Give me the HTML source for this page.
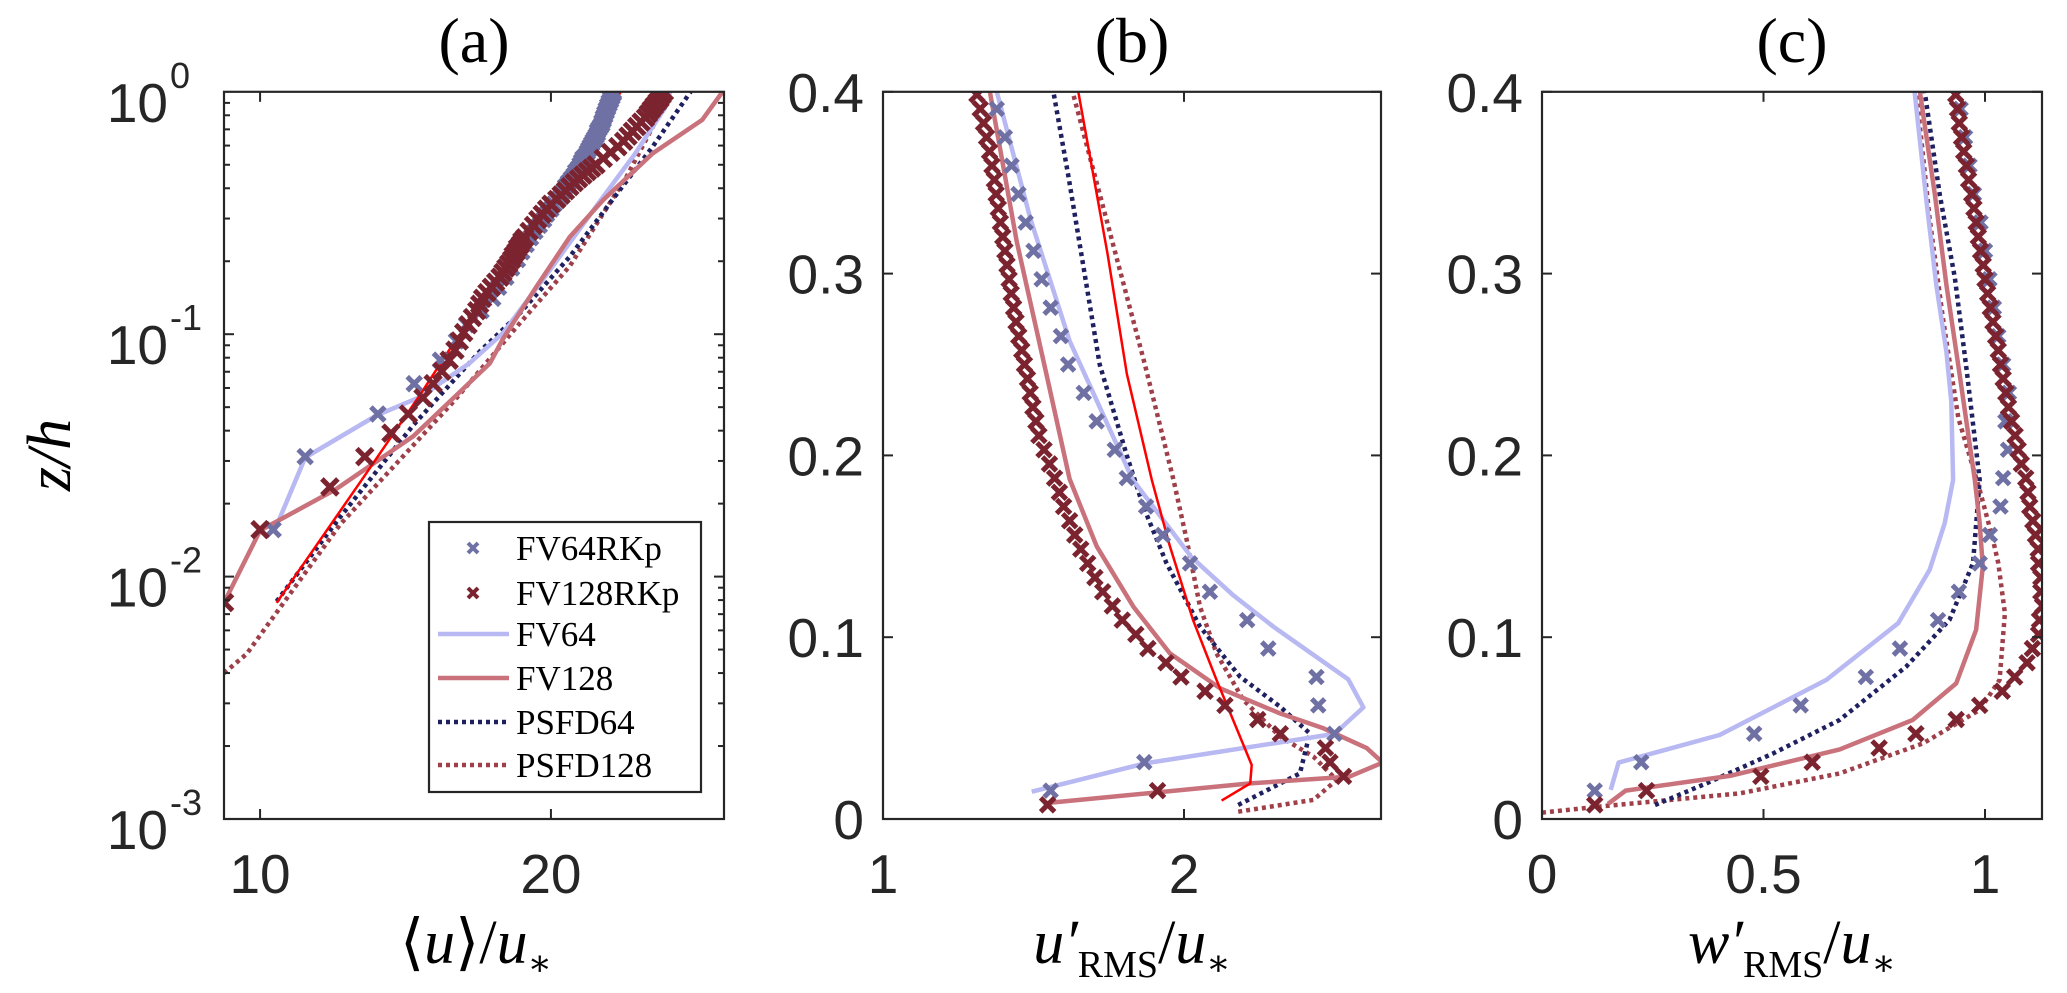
<!DOCTYPE html>
<html><head><meta charset="utf-8"><style>
html,body{margin:0;padding:0;background:#fff;}
svg{display:block;}
.tick{font-family:"Liberation Sans",Arial,sans-serif;font-size:55px;fill:#262626;}
.sup{font-size:36px;}
.ttl{font-family:"Liberation Serif","DejaVu Serif",serif;font-size:64px;fill:#000;}
.lab{font-family:"Liberation Serif","DejaVu Serif",serif;font-size:62px;fill:#000;font-style:italic;}
.leg{font-family:"Liberation Serif","DejaVu Serif",serif;font-size:35px;fill:#000;}
</style></head><body>
<svg id="fig" width="2067" height="993" viewBox="0 0 2067 993" xmlns="http://www.w3.org/2000/svg">
<defs>
<clipPath id="clipA"><rect x="224" y="91.8" width="500" height="727.2"/></clipPath>
<clipPath id="clipB"><rect x="883" y="91.8" width="498" height="727.2"/></clipPath>
<clipPath id="clipC"><rect x="1542" y="91.8" width="500" height="727.2"/></clipPath>
</defs>
<g id="layer"></g>
</svg>
<script>
// ---------------- DATA ----------------
const aFV64RKp_u = [10.45,11.55,14.05,15.3,16.2,16.75,17.1,17.6,18.0,18.2,18.45,18.65,18.85,19.0,19.15,19.3,19.45,19.6,19.75,19.85,20.0,20.1,20.25,20.35,20.45,20.5,20.6,20.7,20.8,20.85,20.95,21.0,21.05,21.1,21.2,21.25,21.3,21.35,21.4,21.45,21.5,21.55,21.6,21.6,21.65,21.7,21.75,21.75,21.8,21.8,21.85,21.85,21.9,21.9,21.95,21.95,22.0,22.0,22.05,22.05,22.1,22.1,22.15,22.15];
const aFV128RKp_k = [1,2,3,4,5,6,7,8,9,10,11,12,13,14,15,16,17,18,19,20,21,22,23,24,25,26,27,28,29,30,31,32,34,36,38,40,42,44,46,48,50,52,54,56,58,60,62,64,68,72,76,80,84,88,92,96,100,104,108,112,116,120,124,128];
const aFV128RKp_u = [8.78,10.0,12.4,13.6,14.5,15.1,15.6,15.95,16.25,16.5,16.7,16.85,17.0,17.15,17.3,17.45,17.55,17.65,17.8,17.95,18.1,18.25,18.35,18.45,18.55,18.65,18.7,18.8,18.85,18.95,19.0,19.1,19.25,19.4,19.55,19.7,19.85,20.0,20.2,20.35,20.5,20.65,20.8,20.95,21.1,21.25,21.4,21.55,21.8,22.05,22.3,22.5,22.65,22.8,22.95,23.1,23.25,23.35,23.45,23.55,23.65,23.75,23.82,23.9];
const aFV64_z = [0.0155,0.031,0.0462,0.055,0.0759,0.101,0.19,0.336,0.557,0.869,1.0];
const aFV64_u = [10.5,11.55,14.0,15.5,17.2,18.35,20.05,21.55,22.9,23.95,24.1];
const aFV128_z = [0.0078,0.0155,0.0229,0.038,0.0575,0.0759,0.0955,0.157,0.252,0.358,0.557,0.766,1.0];
const aFV128_u = [8.76,10.0,12.6,15.27,16.85,17.9,18.35,19.5,20.65,21.8,23.5,25.2,25.9];
const aRed_z = [0.0078,0.0251,0.0562,0.0912,0.158,0.251,0.501,1.0];
const aRed_u = [10.57,13.5,15.5,16.64,18.1,19.2,20.9,22.4];
const aPSFD64_z = [0.0079,0.0176,0.0422,0.0851,0.122,0.209,0.394,0.594,1.0];
const aPSFD64_u = [10.57,12.75,15.27,17.56,18.93,20.65,22.37,23.5,24.8];
const aPSFD128_z = [0.004,0.0048,0.0164,0.0525,0.111,0.191,0.447,0.817,1.0];
const aPSFD128_u = [8.76,9.54,12.75,16.64,18.93,20.65,22.6,23.75,24.0];
const bFV64RKp_u = [1.557,1.868,2.50,2.446,2.44,2.28,2.21,2.086,2.02,1.93,1.874,1.81,1.77,1.71,1.667,1.615,1.591,1.557,1.527,1.50,1.474,1.45,1.427,1.405,1.378];
const bFV128RKp_u = [1.547,1.912,2.53,2.485,2.47,2.32,2.245,2.136,2.07,1.99,1.94,1.88,1.84,1.795,1.762,1.73,1.704,1.68,1.657,1.637,1.62,1.60,1.586,1.57,1.553,1.535,1.518,1.508,1.498,1.489,1.48,1.47,1.461,1.451,1.442,1.434,1.426,1.419,1.412,1.405,1.398,1.39,1.383,1.376,1.37,1.362,1.354,1.344,1.334,1.323,1.312];
const bFV64_z = [0.015,0.0306,0.0468,0.0614,0.0768,0.1058,0.123,0.144,0.1865,0.263,0.33,0.40];
const bFV64_u = [1.494,1.87,2.50,2.596,2.546,2.297,2.164,2.025,1.83,1.62,1.49,1.378];
const bFV128_z = [0.0086,0.0196,0.0233,0.031,0.039,0.0499,0.0581,0.0719,0.0911,0.1168,0.15,0.187,0.244,0.318,0.4];
const bFV128_u = [1.533,2.22,2.55,2.66,2.607,2.463,2.319,2.12,1.953,1.832,1.71,1.62,1.544,1.444,1.355];
const bRed_z = [0.0101,0.0196,0.0297,0.0453,0.0765,0.1095,0.15,0.1865,0.245,0.311,0.4];
const bRed_u = [2.125,2.22,2.225,2.186,2.108,2.03,1.953,1.893,1.81,1.746,1.649];
const bPSFD64_z = [0.0077,0.0251,0.0471,0.0618,0.0783,0.1058,0.1407,0.1718,0.2,0.25,0.3536,0.4];
const bPSFD64_u = [2.18,2.385,2.418,2.319,2.186,2.053,1.942,1.865,1.81,1.72,1.616,1.566];
const bPSFD128_z = [0.004,0.0105,0.0215,0.0343,0.0453,0.0655,0.0911,0.1168,0.1535,0.1865,0.25,0.3,0.4];
const bPSFD128_u = [2.18,2.43,2.507,2.43,2.319,2.197,2.108,2.053,2.009,1.965,1.87,1.79,1.63];
const cFV64RKp_w = [0.119,0.224,0.479,0.584,0.731,0.808,0.894,0.941,0.988,1.011,1.035,1.041,1.052,1.046,1.054,1.041,1.03,1.02,1.01,1.0,0.99,0.975,0.965,0.955,0.945];
const cFV128RKp_w = [0.119,0.236,0.494,0.61,0.761,0.844,0.935,0.988,1.039,1.067,1.095,1.107,1.121,1.123,1.13,1.126,1.126,1.121,1.12,1.114,1.108,1.101,1.097,1.092,1.082,1.075,1.068,1.06,1.053,1.047,1.041,1.035,1.03,1.024,1.018,1.012,1.006,1.0,0.996,0.99,0.985,0.98,0.975,0.97,0.963,0.958,0.952,0.947,0.942,0.938,0.934];
const cFV64_z = [0.016,0.031,0.0462,0.0765,0.1077,0.137,0.1627,0.1865,0.2296,0.257,0.2938,0.3397,0.4];
const cFV64_w = [0.155,0.173,0.401,0.642,0.804,0.875,0.909,0.928,0.924,0.913,0.89,0.868,0.841];
const cFV128_z = [0.0083,0.0156,0.0237,0.0383,0.0545,0.0746,0.104,0.1388,0.1627,0.1865,0.2443,0.2938,0.3433,0.4];
const cFV128_w = [0.149,0.189,0.424,0.672,0.837,0.935,0.98,0.995,0.988,0.977,0.943,0.913,0.887,0.853];
const cPSFD64_z = [0.0077,0.0196,0.0361,0.0545,0.0838,0.1095,0.1407,0.1865,0.248,0.2975,0.3433,0.4];
const cPSFD64_w = [0.255,0.371,0.522,0.672,0.822,0.92,0.973,0.988,0.958,0.932,0.898,0.864];
const cPSFD128_z = [0.0035,0.0072,0.0141,0.0251,0.0416,0.06,0.0765,0.1132,0.1407,0.1535,0.181,0.2204,0.2755,0.3305,0.4];
const cPSFD128_w = [0.0,0.145,0.446,0.672,0.86,0.988,1.033,1.045,1.03,1.018,0.988,0.94,0.905,0.875,0.845];
const aXTicks = [10,20];
const bXTicks = [1,2];
const cXTicks = [0,0.5,1];
const linYTicks = [0,0.1,0.2,0.3,0.4];
const logYExp = [-3,-2,-1,0];
const legendLabels = ["FV64RKp","FV128RKp","FV64","FV128","PSFD64","PSFD128"];

// ---------------- SCALES ----------------
const TOP=91.8, BOT=819;
function lin(d0,d1,r0,r1){return v=>r0+(v-d0)*(r1-r0)/(d1-d0);}
const xA=lin(8.76,25.95,224,724), yA=z=>BOT-(Math.log10(z)+3)*242.4;
const xB=lin(1,2.6545,883,1381), yL=lin(0,0.4,BOT,TOP);
const xC=lin(0,1.1287,1542,2042);

const NS="http://www.w3.org/2000/svg";
const layer=document.getElementById('layer');
function el(tag,attrs,parent){const e=document.createElementNS(NS,tag);for(const k in attrs)e.setAttribute(k,attrs[k]);(parent||layer).appendChild(e);return e;}

const C={m64:'#6f71a4',m128:'#7b2430',l64:'#b8b8f2',l128:'#c9727b',p64:'#1f2060',p128:'#9e3f49',red:'#ff0000'};

function line(xs,ys,xf,yf,color,w,dash,clip,name){
  const d=xs.map((v,i)=>(i?'L':'M')+xf(v).toFixed(1)+' '+yf(ys[i]).toFixed(1)).join(' ');
  const p=el('path',{d:d,fill:'none',stroke:color,'stroke-width':w,'clip-path':'url(#'+clip+')','stroke-linejoin':'round'});
  if(dash)p.setAttribute('stroke-dasharray',dash);
  
  
}
function markers(xv,zv,xf,yf,color,clip,name,s){
  const g=el('g',{'clip-path':'url(#'+clip+')',stroke:color,'stroke-width':5});
  
  
  xv.forEach((v,i)=>{const x=xf(v),y=yf(zv[i]);
    el('path',{d:`M${x-s} ${y-s}L${x+s} ${y+s}M${x-s} ${y+s}L${x+s} ${y-s}`},g);});
}
function grid(n,count){const a=[];for(let k=1;k<=count;k++)a.push(k/n);return a;}
function frame(x0,x1,name){
  const r=el('rect',{x:x0,y:TOP,width:x1-x0,height:BOT-TOP,fill:'none',stroke:'#262626','stroke-width':2.2});
  
  
}
function text(x,y,str,cls,anchor,name){
  const t=el('text',{x:x,y:y,class:cls,'text-anchor':anchor||'middle'});t.textContent=str;
  
  
  return t;
}
const DASH='4 4';
const DW=4.5;

// ---------------- PANEL A ----------------
line(aPSFD128_u,aPSFD128_z,xA,yA,C.p128,DW,DASH,'clipA','a-psfd128-line');
line(aPSFD64_u,aPSFD64_z,xA,yA,C.p64,DW,DASH,'clipA','a-psfd64-line');
line(aFV64_u,aFV64_z,xA,yA,C.l64,4.5,null,'clipA','a-fv64-line');
line(aFV128_u,aFV128_z,xA,yA,C.l128,4.5,null,'clipA','a-fv128-line');
line(aRed_u,aRed_z,xA,yA,C.red,2.5,null,'clipA','a-red-line');
markers(aFV64RKp_u,grid(64,aFV64RKp_u.length),xA,yA,C.m64,'clipA','a-fv64rkp-markers',7);
markers(aFV128RKp_u,aFV128RKp_k.map(k=>k/128),xA,yA,C.m128,'clipA','a-fv128rkp-markers',8);
frame(224,724,'a-axes-box');
for(let e=-3;e<0;e++){for(let m=1;m<10;m++){const y=yA(m*Math.pow(10,e));const L=m===1?10:6;
  el('line',{x1:224,x2:224+L,y1:y,y2:y,stroke:'#262626','stroke-width':2});
  el('line',{x1:724,x2:724-L,y1:y,y2:y,stroke:'#262626','stroke-width':2});}}
logYExp.forEach(e=>{const y=yA(Math.pow(10,e));
  const t=el('text',{x:168,y:y+30,class:'tick','text-anchor':'end'});t.textContent='10';
  
  
  const s=el('text',{x:170,y:y-4,class:'tick sup','text-anchor':'start'});s.textContent=String(e);
  
  
});
aXTicks.forEach(v=>{const x=xA(v);
  el('line',{x1:x,x2:x,y1:BOT,y2:BOT-10,stroke:'#262626','stroke-width':2});
  el('line',{x1:x,x2:x,y1:TOP,y2:TOP+10,stroke:'#262626','stroke-width':2});
  text(x,893,String(v),'tick','middle','a-x-tick-label');});

// ---------------- PANEL B ----------------
line(bPSFD128_u,bPSFD128_z,xB,yL,C.p128,DW,DASH,'clipB','b-psfd128-line');
line(bPSFD64_u,bPSFD64_z,xB,yL,C.p64,DW,DASH,'clipB','b-psfd64-line');
line(bFV64_u,bFV64_z,xB,yL,C.l64,4.5,null,'clipB','b-fv64-line');
line(bFV128_u,bFV128_z,xB,yL,C.l128,4.5,null,'clipB','b-fv128-line');
line(bRed_u,bRed_z,xB,yL,C.red,2.5,null,'clipB','b-red-line');
markers(bFV64RKp_u,grid(64,bFV64RKp_u.length),xB,yL,C.m64,'clipB','b-fv64rkp-markers',6.5);
markers(bFV128RKp_u,grid(128,bFV128RKp_u.length),xB,yL,C.m128,'clipB','b-fv128rkp-markers',7);
frame(883,1381,'b-axes-box');
bXTicks.forEach(v=>{const x=xB(v);
  el('line',{x1:x,x2:x,y1:BOT,y2:BOT-10,stroke:'#262626','stroke-width':2});
  el('line',{x1:x,x2:x,y1:TOP,y2:TOP+10,stroke:'#262626','stroke-width':2});
  text(x,893,String(v),'tick','middle','b-x-tick-label');});

// ---------------- PANEL C ----------------
line(cPSFD128_w,cPSFD128_z,xC,yL,C.p128,DW,DASH,'clipC','c-psfd128-line');
line(cPSFD64_w,cPSFD64_z,xC,yL,C.p64,DW,DASH,'clipC','c-psfd64-line');
line(cFV64_w,cFV64_z,xC,yL,C.l64,4.5,null,'clipC','c-fv64-line');
line(cFV128_w,cFV128_z,xC,yL,C.l128,4.5,null,'clipC','c-fv128-line');
markers(cFV64RKp_w,grid(64,cFV64RKp_w.length),xC,yL,C.m64,'clipC','c-fv64rkp-markers',6.5);
markers(cFV128RKp_w,grid(128,cFV128RKp_w.length),xC,yL,C.m128,'clipC','c-fv128rkp-markers',7);
frame(1542,2042,'c-axes-box');
cXTicks.forEach(v=>{const x=xC(v);
  el('line',{x1:x,x2:x,y1:BOT,y2:BOT-10,stroke:'#262626','stroke-width':2});
  el('line',{x1:x,x2:x,y1:TOP,y2:TOP+10,stroke:'#262626','stroke-width':2});
  text(x,893,String(v),'tick','middle','c-x-tick-label');});

[[883,1381,'b'],[1542,2042,'c']].forEach(([x0,x1,p])=>{
  linYTicks.forEach(v=>{const y=yL(v);
    el('line',{x1:x0,x2:x0+10,y1:y,y2:y,stroke:'#262626','stroke-width':2});
    el('line',{x1:x1,x2:x1-10,y1:y,y2:y,stroke:'#262626','stroke-width':2});
    text(x0-19,y+20,String(v),'tick','end',p+'-y-tick-label');});
});

// ---------------- TITLES / LABELS ----------------
text(474,62,'(a)','ttl','middle','panel-a-title');
text(1132,62,'(b)','ttl','middle','panel-b-title');
text(1792,62,'(c)','ttl','middle','panel-c-title');
const yl=el('text',{x:0,y:0,class:'lab','text-anchor':'middle',transform:'translate(70,455) rotate(-90)'});
yl.textContent='z/h';


function xlab(x,parts,name){
  const t=el('text',{x:x,y:963,class:'lab','text-anchor':'middle'});
  
  
  parts.forEach(p=>{const s=el('tspan',{},t);s.textContent=p[0];
    if(p[1])s.setAttribute('style',p[1]);if(p[2])s.setAttribute('dy',p[2]);});
}
xlab(476,[['⟨','font-style:normal;font-family:DejaVu Serif'],['u'],['⟩','font-style:normal;font-family:DejaVu Serif'],['/','font-style:normal'],['u'],['∗','font-style:normal;font-size:36px','12']],'a-x-axis-title');
xlab(1132,[['u′'],['RMS','font-style:normal;font-size:38px','14'],['/','font-style:normal','-14'],['u'],['∗','font-style:normal;font-size:36px','12']],'b-x-axis-title');
xlab(1792,[['w′'],['RMS','font-style:normal;font-size:38px','14'],['/','font-style:normal','-14'],['u'],['∗','font-style:normal;font-size:36px','12']],'c-x-axis-title');

// ---------------- LEGEND ----------------
const lg=el('g',{});


el('rect',{x:429,y:522,width:272,height:270,fill:'#fff',stroke:'#262626','stroke-width':2.2},lg);
const legY=[548,593,634,678,722,765];
const legStyle=[['m',C.m64],['m',C.m128],['l',C.l64,null],['l',C.l128,null],['l',C.p64,DASH],['l',C.p128,DASH]];
legendLabels.forEach((lab,i)=>{
  const y=legY[i];const st=legStyle[i];
  const g=el('g',{},lg);
  
  
  if(st[0]==='m'){el('path',{d:`M468 ${y-5}L478 ${y+5}M468 ${y+5}L478 ${y-5}`,stroke:st[1],'stroke-width':4},g);}
  else{const l=el('line',{x1:438,x2:509,y1:y,y2:y,stroke:st[1],'stroke-width':st[2]?DW:4.5},g);if(st[2])l.setAttribute('stroke-dasharray',st[2]);}
  const t=el('text',{x:516,y:y+12,class:'leg','text-anchor':'start'},g);t.textContent=lab;
});
</script>
</body></html>
